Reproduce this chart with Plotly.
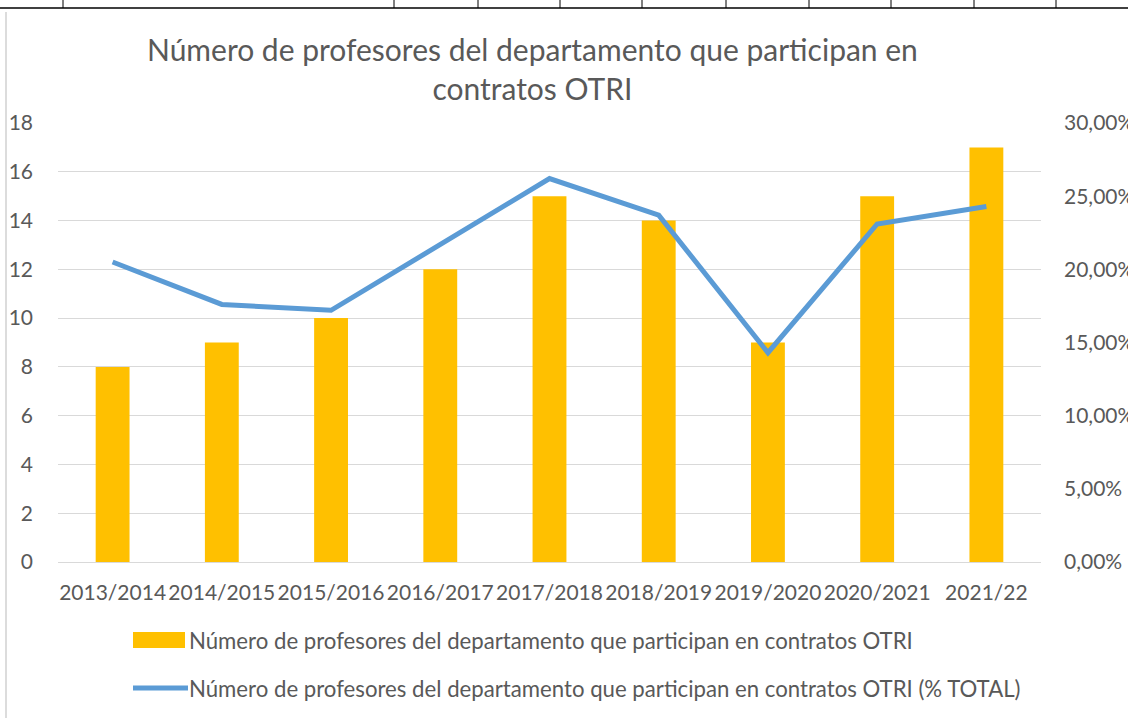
import plotly.graph_objects as go

# Data
cursos = ['2013/2014', '2014/2015', '2015/2016', '2016/2017', '2017/2018',
          '2018/2019', '2019/2020', '2020/2021', '2021/22']
profesores = [8, 9, 10, 12, 15, 14, 9, 15, 17]
porcentaje = [0.205, 0.176, 0.172, 0.217, 0.262, 0.237, 0.143, 0.231, 0.243]

serie1 = 'Número de profesores del departamento que participan en contratos OTRI'
serie2 = 'Número de profesores del departamento que participan en contratos OTRI (% TOTAL)'
titulo = 'Número de profesores del departamento que participan en<br>contratos OTRI'

FONT = 'Lato'
GRIS = '#595959'

# plot area in pixels
L, R, T, B = 58, 1041, 123, 562
W, H = 1128, 718


def px(x):
    return (x - L) / (R - L)


def py(y):
    return (B - y) / (B - T)


fig = go.Figure()

fig.add_trace(go.Bar(
    x=cursos, y=profesores, name=serie1,
    marker_color='#FFC000', marker_line_width=0
))

fig.add_trace(go.Scatter(
    x=cursos, y=porcentaje, name=serie2, yaxis='y2',
    mode='lines', line=dict(color='#5B9BD5', width=5)
))

shapes = []
annotations = []

# title
annotations.append(dict(
    text=titulo, x=px(532), y=py(68), xref='paper', yref='paper',
    showarrow=False, font=dict(family=FONT, size=30, color=GRIS),
    xanchor='center', yanchor='middle', align='center'
))

# manual legend
shapes.append(dict(type='rect', xref='paper', yref='paper',
                   x0=px(133), x1=px(185), y0=py(648), y1=py(632),
                   fillcolor='#FFC000', line_width=0))
shapes.append(dict(type='line', xref='paper', yref='paper',
                   x0=px(133), x1=px(188), y0=py(688), y1=py(688),
                   line=dict(color='#5B9BD5', width=5)))
for texto, y in [(serie1, 640), (serie2, 688)]:
    annotations.append(dict(
        text=texto, x=px(187), y=py(y), xref='paper', yref='paper',
        showarrow=False, font=dict(family=FONT, size=22.2, color=GRIS),
        xanchor='left', yanchor='middle'
    ))

# spreadsheet bits around the chart
shapes.append(dict(type='line', xref='paper', yref='paper',
                   x0=px(0), x1=px(W), y0=py(8), y1=py(8),
                   line=dict(color='black', width=1.5)))
for xc in [63, 394, 478, 560, 642, 726, 809, 891, 974, 1056]:
    shapes.append(dict(type='line', xref='paper', yref='paper',
                       x0=px(xc), x1=px(xc), y0=py(0), y1=py(8),
                       line=dict(color='black', width=1)))
shapes.append(dict(type='line', xref='paper', yref='paper',
                   x0=px(6), x1=px(6), y0=py(12), y1=py(H),
                   line=dict(color='#D0D0D0', width=1.5)))

fig.update_layout(
    width=W, height=H,
    margin=dict(l=L, r=W - R, t=T, b=H - B, autoexpand=False),
    paper_bgcolor='white', plot_bgcolor='white',
    separators=',.',
    showlegend=False,
    bargap=0.69,
    font=dict(family=FONT, color=GRIS, size=21),
    xaxis=dict(showgrid=False, showline=True, linecolor='#D9D9D9', linewidth=1,
               tickangle=0, ticks='', tickfont=dict(size=21), ticklabelstandoff=12,
               automargin=False),
    yaxis=dict(range=[0, 18], dtick=2, showgrid=True, gridcolor='#D9D9D9',
               zeroline=False, ticks='', tickfont=dict(size=21),
               ticklabelstandoff=24, automargin=False),
    yaxis2=dict(range=[0, 0.30], dtick=0.05, overlaying='y', side='right',
                tickformat='.2%', showgrid=False, zeroline=False, ticks='',
                tickfont=dict(size=21), ticklabelstandoff=22, automargin=False),
    shapes=shapes,
    annotations=annotations,
)

fig.write_html('out.html', config={'displayModeBar': False},
               post_script="document.body.style.margin='0';")
